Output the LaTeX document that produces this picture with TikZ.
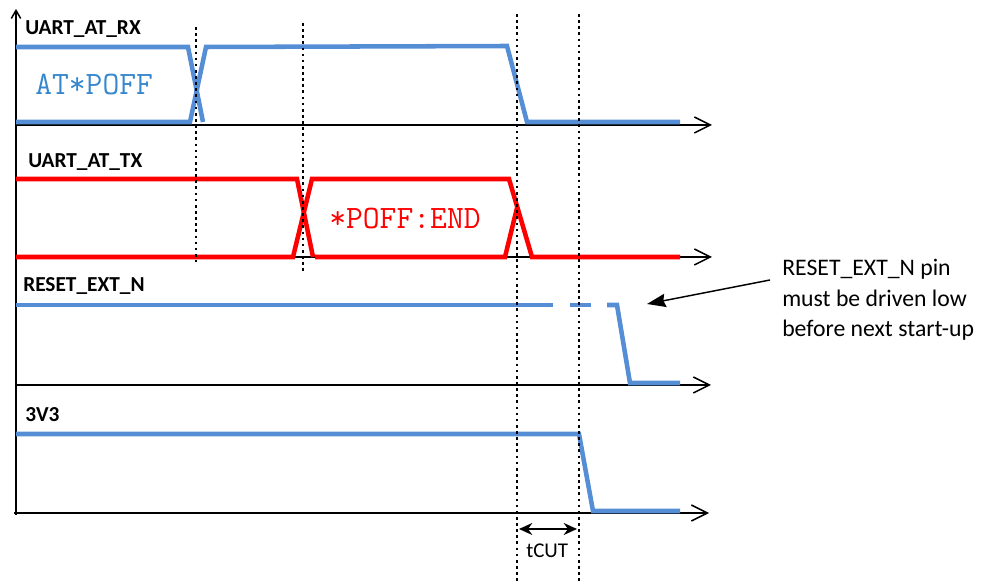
\documentclass[tikz,border=0pt]{standalone}
\usepackage{fontspec}
\setmainfont{Carlito}
\usetikzlibrary{arrows.meta}
\definecolor{sigblue}{RGB}{85,142,213}
\definecolor{sigred}{RGB}{255,0,0}
\definecolor{txtblue}{RGB}{55,135,205}
\begin{document}
\begin{tikzpicture}[x=0.75pt,y=-0.75pt,
  axis/.style={line width=1.1pt,-{Straight Barb[length=12pt,width=12pt,line width=1.1pt]}},
  bsig/.style={sigblue,line width=3.4pt},
  rsig/.style={sigred,line width=3.4pt},
  vline/.style={line width=2pt,dash pattern=on 2pt off 2.6pt},
  lbl/.style={font=\fontsize{16}{18}\selectfont\bfseries,anchor=base west,inner sep=0},
  code/.style={font=\ttfamily\fontsize{24.5}{26}\selectfont,anchor=base west,inner sep=0},
  note/.style={font=\fontsize{17.8}{22.9}\selectfont,anchor=base west,inner sep=0,align=left}]
\useasboundingbox (0,0) rectangle (983,584);
% axes
\draw[axis] (16,125) -- (712,125);
\draw[axis] (16,257) -- (712,257);
\draw[axis] (16,385) -- (711,385);
\draw[axis] (14,513) -- (709,513);
\draw[line width=1.1pt,-{Straight Barb[length=6pt,width=7pt,line width=1.1pt]}] (16,515) -- (16,9);
% UART_AT_RX
\draw[bsig] (16,47) -- (188,47) -- (203,122);
\draw[bsig] (16,122) -- (190,122) -- (206,47) -- (507,46) -- (527,122) -- (680,122);
% UART_AT_TX
\draw[rsig] (16,179) -- (297,179) -- (313,257);
\draw[rsig] (16,257) -- (293,257) -- (312,179) -- (509,179) -- (532,257) -- (680,257);
\draw[rsig] (315,257) -- (505,257) -- (517,208);
% RESET_EXT_N
\draw[bsig] (16,305) -- (553,305);
\draw[bsig] (570,305) -- (591,305);
\draw[bsig] (607,305) -- (617,305) -- (630,383) -- (680,383);
% 3V3
\draw[bsig] (16,434) -- (579,434) -- (593,511) -- (680,511);
% dotted markers
\draw[vline] (196,27) -- (196,262);
\draw[vline] (303,23) -- (303,272);
\draw[vline] (517,14) -- (517,584);
\draw[vline] (579,14) -- (579,584);
% labels
\node[lbl] (lrx) at (25,35) {UART\_AT\_RX};
\node[lbl] (ltx) at (28,168) {UART\_AT\_TX};
\node[lbl] (lrst) at (23,292) {RESET\_EXT\_N};
\node[lbl] (l3v3) at (25,422) {3V3};
\node[code,text=txtblue] (cmd) at (35,95) {AT*POFF};
\node[code,text=sigred] (resp) at (329,229) {*POFF:END};
% tCUT
\coordinate (tcl) at (519,529);
\coordinate (tcr) at (577,529);
\draw[line width=1.1pt,{Stealth[length=10pt,width=9pt]}-{Stealth[length=10pt,width=9pt]}] (tcl) -- (tcr);
\node[font=\fontsize{15.75}{18}\selectfont,anchor=base west,inner sep=0] (tcut) at (526,558) {tCUT};
% annotation
\node[note] (nt) at (782,337) {RESET\_EXT\_N pin\\must be driven low\\before next start-up};
\coordinate (astart) at (770,280);
\coordinate (atip) at (647,304);
\draw[line width=1.1pt,-{Stealth[length=14pt,width=10pt,inset=1.5pt]}] (astart) -- (atip);
\end{tikzpicture}
\end{document}
